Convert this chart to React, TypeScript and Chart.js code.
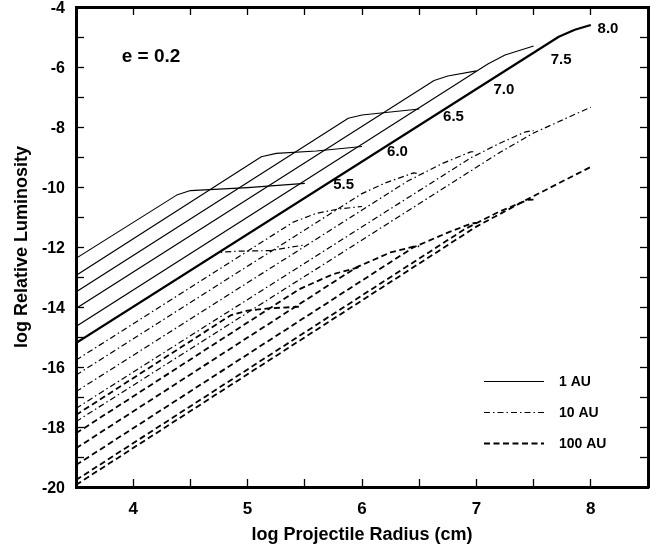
import { useEffect, useRef } from "react";
import { Chart, registerables } from "chart.js";

Chart.register(...registerables);

type Pt = [number, number];

// End radius (log cm) of each luminosity track, used as its label
const trackLabels = ["5.5", "6.0", "6.5", "7.0", "7.5", "8.0"];

// Tracks at 1 AU: [log projectile radius, log relative luminosity]
const oneAU: Pt[][] = [
  [[3.5, -12.38], [4.38, -10.27], [4.5, -10.12], [5.0, -10.02], [5.5, -9.88]],
  [[3.5, -12.95], [5.12, -8.99], [5.25, -8.88], [5.6, -8.8], [6.0, -8.65]],
  [[3.5, -13.5], [5.88, -7.71], [6.0, -7.6], [6.5, -7.4]],
  [[3.5, -14.05], [6.63, -6.45], [6.75, -6.3], [7.0, -6.13]],
  [[3.5, -14.65], [7.1, -5.9], [7.25, -5.6], [7.5, -5.3]],
  [[3.5, -15.2], [7.72, -4.99], [7.86, -4.76], [8.0, -4.6]],
];

// Tracks at 10 AU
const tenAU: Pt[][] = [
  [[3.5, -15.2], [4.75, -12.18], [4.9, -12.14], [5.2, -12.12], [5.5, -11.93]],
  [[3.5, -15.77], [5.4, -11.17], [5.6, -10.88], [5.8, -10.73], [6.0, -10.65]],
  [[3.5, -16.27], [6.0, -10.22], [6.2, -9.87], [6.45, -9.53], [6.5, -9.56]],
  [[3.5, -16.82], [6.4, -9.8], [6.7, -9.22], [6.95, -8.83], [7.0, -8.82]],
  [[3.5, -17.38], [6.95, -9.03], [7.2, -8.55], [7.43, -8.16], [7.5, -8.12]],
  [[3.5, -17.82], [7.2, -8.86], [7.5, -8.2], [8.0, -7.34]],
];

// Tracks at 100 AU
const hundredAU: Pt[][] = [
  [[3.5, -17.6], [4.85, -14.28], [5.0, -14.12], [5.2, -14.04], [5.46, -13.99]],
  [[3.5, -18.21], [5.45, -13.41], [5.75, -12.9], [6.0, -12.65]],
  [[3.5, -18.71], [5.95, -12.68], [6.25, -12.18], [6.47, -11.97], [6.5, -11.98]],
  [[3.5, -19.27], [6.45, -12.01], [6.75, -11.52], [6.96, -11.21], [7.0, -11.2]],
  [[3.5, -19.77], [6.9, -11.4], [7.2, -10.82], [7.45, -10.43], [7.5, -10.42]],
  [[3.5, -19.93], [7.0, -11.32], [7.45, -10.4], [8.0, -9.33]],
];

// Where the track labels sit (data coordinates)
const labelX = [5.84, 6.31, 6.8, 7.24, 7.74, 8.15];
const labelY = [-9.93, -8.83, -7.67, -6.77, -5.77, -4.73];

const distanceNames = ["1 AU", "10 AU", "100 AU"];
const eccentricityText = "e = 0.2";

const FONT = "'Liberation Sans', Arial, Helvetica, sans-serif";
const dashes: number[][] = [[], [6, 3, 1.5, 3], [6, 3.5]];
const widths = [1.1, 1.2, 1.8];

// Track labels, eccentricity note and the line-style key
const notesPlugin = {
  id: "plotNotes",
  afterDraw(chart: any) {
    const { ctx, chartArea: a, scales } = chart;
    const xs = scales.x;
    const ys = scales.y;
    ctx.save();
    ctx.fillStyle = "#000";
    ctx.strokeStyle = "#000";

    ctx.font = `bold 15px ${FONT}`;
    ctx.textAlign = "center";
    ctx.textBaseline = "middle";
    trackLabels.forEach((t, i) => {
      ctx.fillText(t, xs.getPixelForValue(labelX[i]), ys.getPixelForValue(labelY[i]));
    });

    ctx.font = `bold 19px ${FONT}`;
    ctx.textAlign = "left";
    ctx.fillText(eccentricityText, xs.getPixelForValue(3.9), ys.getPixelForValue(-5.67));

    ctx.font = `bold 14px ${FONT}`;
    distanceNames.forEach((name, i) => {
      const y = Math.round(a.bottom - 106 + i * 31) + 0.5;
      ctx.lineWidth = widths[i];
      ctx.setLineDash(dashes[i]);
      ctx.beginPath();
      ctx.moveTo(a.right - 164, y);
      ctx.lineTo(a.right - 104, y);
      ctx.stroke();
      ctx.setLineDash([]);
      ctx.fillText(name, a.right - 89, y + 0.5);
    });
    ctx.restore();
  },
};

// Shared look of the four box sides: heavy border, short inward tick marks
const boxSide = {
  border: { display: true, width: 3, color: "#000" },
  grid: {
    display: true,
    drawOnChartArea: false,
    drawTicks: true,
    tickLength: -8,
    tickWidth: 1.3,
    tickColor: "#000",
  },
};

export default function App() {
  const canvasRef = useRef<HTMLCanvasElement | null>(null);

  useEffect(() => {
    document.body.style.margin = "0";
    const canvas = canvasRef.current;
    if (!canvas) return;

    const families = [oneAU, tenAU, hundredAU];
    const datasets: any[] = [];
    families.forEach((tracks, f) => {
      tracks.forEach((track, i) => {
        datasets.push({
          label: `${distanceNames[f]} ${trackLabels[i]}`,
          data: track.map(([x, y]) => ({ x, y })),
          borderColor: "#000",
          borderWidth: f === 0 && i === tracks.length - 1 ? 2.2 : widths[f],
          borderDash: dashes[f],
          pointRadius: 0,
          tension: 0,
          fill: false,
          borderJoinStyle: "round",
        });
      });
    });

    const chart = new Chart(canvas, {
      type: "line",
      data: { datasets },
      plugins: [notesPlugin],
      options: {
        animation: false,
        responsive: true,
        maintainAspectRatio: false,
        layout: { padding: { top: 7, right: 12, left: 0, bottom: 0 } },
        plugins: { legend: { display: false }, tooltip: { enabled: false } },
        scales: {
          x: {
            type: "linear",
            position: "bottom",
            min: 3.5,
            max: 8.5,
            ...boxSide,
            afterFit: (s: any) => {
              s.height = 61;
              s.paddingLeft = 0;
              s.paddingRight = 0;
            },
            ticks: {
              stepSize: 0.5,
              autoSkip: false,
              maxRotation: 0,
              padding: 20,
              color: "#000",
              font: { family: FONT, size: 17, weight: "bold" },
              callback: (v: any) => (Number.isInteger(v) ? String(v) : ""),
            },
            title: {
              display: true,
              text: "log Projectile Radius (cm)",
              color: "#000",
              font: { family: FONT, size: 18, weight: "bold" },
              padding: { top: 0, bottom: 2 },
            },
          },
          xTop: {
            type: "linear",
            position: "top",
            min: 3.5,
            max: 8.5,
            ...boxSide,
            afterFit: (s: any) => {
              s.height = 0;
              s.paddingLeft = 0;
              s.paddingRight = 0;
            },
            ticks: { display: false, stepSize: 0.5, autoSkip: false },
          },
          y: {
            type: "linear",
            position: "left",
            min: -20,
            max: -4,
            ...boxSide,
            afterFit: (s: any) => {
              s.width = 76;
              s.paddingTop = 0;
              s.paddingBottom = 0;
            },
            ticks: {
              stepSize: 1,
              autoSkip: false,
              padding: 19,
              labelOffset: 2,
              color: "#000",
              font: { family: FONT, size: 16, weight: "bold" },
              callback: (v: any) => (v % 2 === 0 ? String(v) : ""),
            },
            title: {
              display: true,
              text: "log Relative Luminosity",
              color: "#000",
              font: { family: FONT, size: 18, weight: "bold" },
              padding: { top: 11, bottom: 0 },
            },
          },
          yRight: {
            type: "linear",
            position: "right",
            min: -20,
            max: -4,
            ...boxSide,
            afterFit: (s: any) => {
              s.width = 0;
              s.paddingTop = 0;
              s.paddingBottom = 0;
            },
            ticks: { display: false, stepSize: 1, autoSkip: false },
          },
        },
      },
    });
    return () => chart.destroy();
  }, []);

  return (
    <div style={{ width: 660, height: 548, position: "relative", background: "#fff" }}>
      <canvas ref={canvasRef} />
    </div>
  );
}
